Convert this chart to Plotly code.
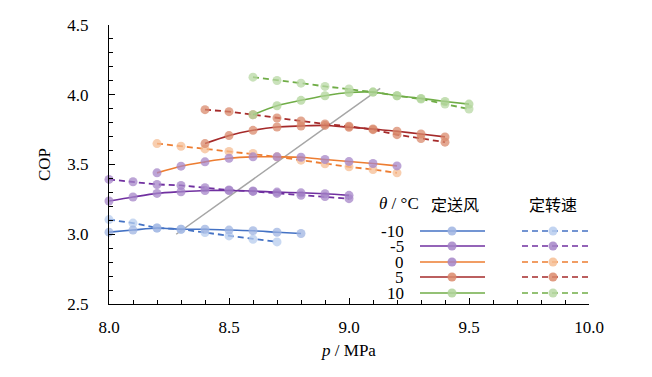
import plotly.graph_objects as go

# ---------------- data ----------------
temps = ["-10", "-5", "0", "5", "10"]

# constant air-supply (定送风) series
p_air_m10 = [8.0, 8.1, 8.2, 8.3, 8.4, 8.5, 8.6, 8.7, 8.8]
cop_air_m10 = [3.015, 3.03, 3.045, 3.036, 3.036, 3.03, 3.025, 3.014, 3.005]
p_air_m5 = [8.0, 8.1, 8.2, 8.3, 8.4, 8.5, 8.6, 8.7, 8.8, 8.9, 9.0]
cop_air_m5 = [3.238, 3.267, 3.293, 3.305, 3.314, 3.314, 3.31, 3.302, 3.297, 3.29, 3.279]
p_air_0 = [8.2, 8.3, 8.4, 8.5, 8.6, 8.7, 8.8, 8.9, 9.0, 9.1, 9.2]
cop_air_0 = [3.44, 3.488, 3.519, 3.545, 3.555, 3.555, 3.552, 3.536, 3.521, 3.507, 3.49]
p_air_5 = [8.4, 8.5, 8.6, 8.7, 8.8, 8.9, 9.0, 9.1, 9.2, 9.3, 9.4]
cop_air_5 = [3.65, 3.707, 3.745, 3.769, 3.776, 3.78, 3.767, 3.755, 3.738, 3.719, 3.698]
p_air_10 = [8.6, 8.7, 8.8, 8.9, 9.0, 9.1, 9.2, 9.3, 9.4, 9.5]
cop_air_10 = [3.857, 3.921, 3.96, 3.993, 4.016, 4.019, 3.993, 3.974, 3.952, 3.933]

# constant fan-speed (定转速) series
p_spd_m10 = [8.0, 8.1, 8.2, 8.3, 8.4, 8.5, 8.6, 8.7]
cop_spd_m10 = [3.105, 3.08, 3.045, 3.036, 3.012, 2.988, 2.964, 2.945]
p_spd_m5 = [8.0, 8.1, 8.2, 8.3, 8.4, 8.5, 8.6, 8.7, 8.8, 8.9, 9.0]
cop_spd_m5 = [3.393, 3.376, 3.357, 3.35, 3.333, 3.317, 3.307, 3.293, 3.279, 3.27, 3.255]
p_spd_0 = [8.2, 8.3, 8.4, 8.5, 8.6, 8.7, 8.8, 8.9, 9.0, 9.1, 9.2]
cop_spd_0 = [3.65, 3.631, 3.612, 3.593, 3.579, 3.555, 3.531, 3.505, 3.483, 3.464, 3.44]
p_spd_5 = [8.4, 8.5, 8.6, 8.7, 8.8, 8.9, 9.0, 9.1, 9.2, 9.3, 9.4]
cop_spd_5 = [3.893, 3.879, 3.857, 3.833, 3.812, 3.79, 3.774, 3.75, 3.714, 3.686, 3.66]
p_spd_10 = [8.6, 8.7, 8.8, 8.9, 9.0, 9.1, 9.2, 9.3, 9.4, 9.5]
cop_spd_10 = [4.126, 4.102, 4.083, 4.06, 4.041, 4.019, 3.993, 3.969, 3.933, 3.898]

# optimum-pressure line
opt_p = [8.28, 9.13]
opt_cop = [3.0, 4.045]

# ---------------- styles ----------------
line_colors = ["#4472C4", "#7030A0", "#ED7D31", "#A52A2A", "#70AD47"]
air_marker_colors = ["#9FB4E2", "#A585C8", "#A585C8", "#DA8A6C", "#B0D49A"]
spd_marker_colors = ["#B7CCEE", "#A585C8", "#F6BE94", "#DA8A6C", "#B8D8A4"]

air_p = [p_air_m10, p_air_m5, p_air_0, p_air_5, p_air_10]
air_cop = [cop_air_m10, cop_air_m5, cop_air_0, cop_air_5, cop_air_10]
spd_p = [p_spd_m10, p_spd_m5, p_spd_0, p_spd_5, p_spd_10]
spd_cop = [cop_spd_m10, cop_spd_m5, cop_spd_0, cop_spd_5, cop_spd_10]

SERIF = "Liberation Serif"
CJK = "Noto Sans CJK SC"

fig = go.Figure()

fig.add_trace(go.Scatter(x=opt_p, y=opt_cop, mode="lines",
                         line=dict(color="#A6A6A6", width=1.5),
                         showlegend=False, hoverinfo="skip"))

for i in range(5):
    fig.add_trace(go.Scatter(
        x=spd_p[i], y=spd_cop[i], mode="lines+markers", cliponaxis=False,
        line=dict(color=line_colors[i], width=1.8, dash="6px,4px"),
        marker=dict(color=spd_marker_colors[i], size=9, opacity=0.75, line=dict(width=0)),
        showlegend=False))
    fig.add_trace(go.Scatter(
        x=air_p[i], y=air_cop[i], mode="lines+markers", cliponaxis=False,
        line=dict(color=line_colors[i], width=1.6, shape="spline", smoothing=0.8),
        marker=dict(color=air_marker_colors[i], size=9, opacity=0.75, line=dict(width=0)),
        showlegend=False))

# ---------------- layout geometry (page pixels; page has 8px body margin) ----------------
PAGE_OFF = 8
FIG_W, FIG_H = 652 - PAGE_OFF, 377 - PAGE_OFF
L, R, T, B = 109, 589, 25, 304  # plot area in page pixels
W, H = R - L, B - T


def px(x):
    return (x - L) / W


def py(y):
    return (B - y) / H


row_y = [231, 246, 262, 277, 293]
shapes = []
annotations = []
for i in range(5):
    yy = py(row_y[i])
    shapes.append(dict(type="line", xref="paper", yref="paper", x0=px(420), x1=px(485),
                       y0=yy, y1=yy, line=dict(color=line_colors[i], width=1.6)))
    shapes.append(dict(type="line", xref="paper", yref="paper", x0=px(522), x1=px(588),
                       y0=yy, y1=yy, line=dict(color=line_colors[i], width=1.6, dash="6px,4px")))
    for cx, col in ((452, air_marker_colors[i]), (553, spd_marker_colors[i])):
        shapes.append(dict(type="circle", xref="paper", yref="paper",
                           xsizemode="pixel", ysizemode="pixel",
                           xanchor=px(cx), yanchor=yy, x0=-4.5, x1=4.5, y0=-4.5, y1=4.5,
                           fillcolor=col, opacity=0.85, line=dict(width=0)))
    annotations.append(dict(text=temps[i], xref="paper", yref="paper", x=px(405), y=yy,
                            xanchor="right", yanchor="middle", showarrow=False,
                            height=15, valign="middle", borderpad=0,
                            font=dict(family=SERIF, size=17, color="#000")))

annotations.append(dict(text="<i>θ</i> / °C", xref="paper", yref="paper", x=px(377), y=py(204),
                        xanchor="left", yanchor="middle", showarrow=False,
                        font=dict(family=SERIF, size=17, color="#000")))
annotations.append(dict(text="定送风", xref="paper", yref="paper", x=px(455), y=py(204),
                        xanchor="center", yanchor="middle", showarrow=False,
                        font=dict(family=CJK, size=16, color="#000")))
annotations.append(dict(text="定转速", xref="paper", yref="paper", x=px(553), y=py(204),
                        xanchor="center", yanchor="middle", showarrow=False,
                        font=dict(family=CJK, size=16, color="#000")))

fig.update_layout(
    width=FIG_W, height=FIG_H,
    margin=dict(l=L - PAGE_OFF, r=FIG_W - (R - PAGE_OFF), t=T - PAGE_OFF, b=FIG_H - (B - PAGE_OFF)),
    paper_bgcolor="white", plot_bgcolor="white",
    font=dict(family=SERIF, size=16, color="#000"),
    shapes=shapes, annotations=annotations,
    xaxis=dict(range=[8.0, 10.0], dtick=0.5, tick0=8.0, tickformat=".1f",
               automargin=False,
               showline=True, linecolor="#000", linewidth=1, mirror=False,
               showgrid=False, zeroline=False,
               ticks="inside", ticklen=6, tickcolor="#000",
               ticklabelstandoff=8,
               tickfont=dict(family=SERIF, size=17),
               minor=dict(dtick=0.1, ticks="inside", ticklen=4, tickcolor="#000", showgrid=False),
               title=dict(text="<i>p</i> / MPa", standoff=7, font=dict(family=SERIF, size=17))),
    yaxis=dict(range=[2.5, 4.5], dtick=0.5, tick0=2.5, tickformat=".1f",
               automargin=False,
               showline=True, linecolor="#000", linewidth=1, mirror=False,
               showgrid=False, zeroline=False,
               ticks="inside", ticklen=6, tickcolor="#000",
               ticklabelstandoff=16,
               tickfont=dict(family=SERIF, size=17),
               minor=dict(dtick=0.1, ticks="inside", ticklen=4, tickcolor="#000", showgrid=False),
               title=dict(text="COP", standoff=12, font=dict(family=SERIF, size=17))),
)

fig.write_html("out.html")
